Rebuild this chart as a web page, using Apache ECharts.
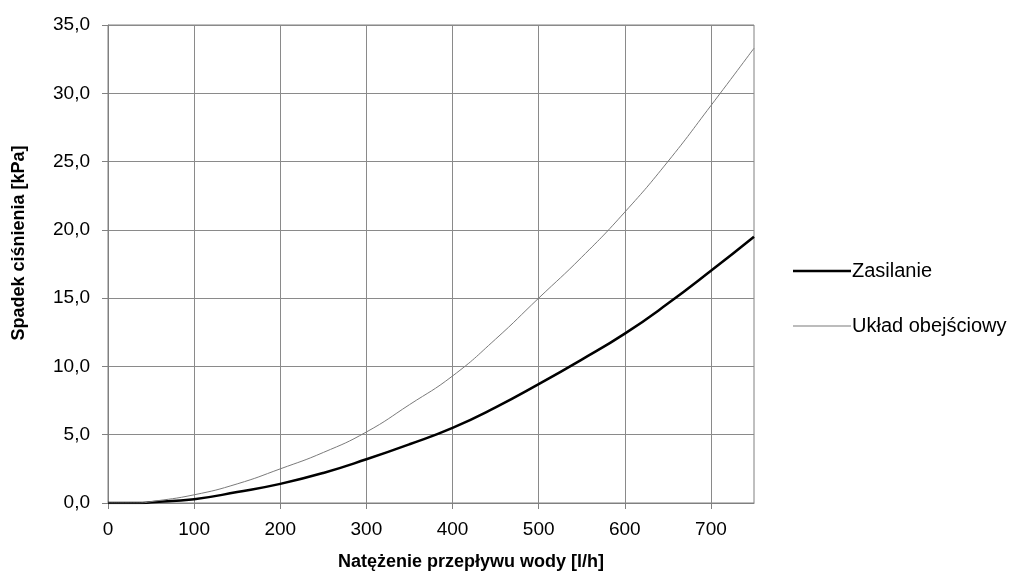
<!DOCTYPE html>
<html>
<head>
<meta charset="utf-8">
<script src="https://cdn.jsdelivr.net/npm/echarts@6/dist/echarts.min.js"></script>
<style>html,body{margin:0;padding:0;background:#fff}#c{width:1021px;height:576px}</style>
</head>
<body>
<div id="c"></div>
<script>
const flow = [0, 35, 50, 100, 150, 200, 250, 300, 350, 400, 450, 500, 550, 600, 650, 700, 750];
const zasilanie = [0, 0, 0.05, 0.28, 0.8, 1.4, 2.2, 3.2, 4.3, 5.5, 7.0, 8.7, 10.5, 12.4, 14.6, 17.0, 19.5];
const obejsciowy = [0, 0, 0.1, 0.6, 1.4, 2.5, 3.7, 5.2, 7.2, 9.3, 12.0, 15.0, 18.0, 21.3, 25.0, 29.1, 33.3];
const xTicks = [0, 100, 200, 300, 400, 500, 600, 700];
const seriesNames = ['Zasilanie', 'Układ obejściowy'];
const xTitle = 'Natężenie przepływu wody [l/h]';
const yTitle = 'Spadek ciśnienia [kPa]';

const FONT = 'Liberation Sans, Arial, sans-serif';
const chart = echarts.init(document.getElementById('c'));
chart.setOption({
  animation: false,
  backgroundColor: '#fff',
  grid: { left: 108, right: 267, top: 25, bottom: 73, show: true, borderColor: '#808080', borderWidth: 1 },
  legend: {
    orient: 'vertical', left: 793, top: 256, padding: 0, itemGap: 25,
    itemWidth: 58, itemHeight: 10,
    textStyle: { fontFamily: FONT, fontSize: 20, color: '#000', lineHeight: 20, padding: [0, 0, 10, -4] },
    data: [
      { name: seriesNames[0], icon: 'path://M0,0H58V2.5H0Z', itemStyle: { color: '#000' } },
      { name: seriesNames[1], icon: 'path://M0,0H58V1H0Z', itemStyle: { color: '#7a7a7a' } }
    ]
  },
  xAxis: {
    type: 'value', min: 0, max: 750, interval: 100,
    name: xTitle, nameLocation: 'middle', nameGap: 50,
    nameTextStyle: { fontFamily: FONT, fontSize: 18, fontWeight: 'bold', color: '#000', padding: [0, 0, 0, 80] },
    axisLine: { show: true, lineStyle: { color: '#808080', width: 1 } },
    axisTick: { show: true, inside: false, length: 6, lineStyle: { color: '#808080' }, customValues: xTicks },
    axisLabel: { fontFamily: FONT, fontSize: 19, color: '#000', margin: 17, customValues: xTicks },
    splitLine: { show: true, lineStyle: { color: '#8a8a8a', width: 1 } }
  },
  yAxis: {
    type: 'value', min: 0, max: 35, interval: 5,
    name: yTitle, nameLocation: 'middle', nameGap: 80, nameRotate: 90,
    nameTextStyle: { fontFamily: FONT, fontSize: 18, fontWeight: 'bold', color: '#000', padding: [0, 0, 0, 42] },
    axisLine: { show: true, lineStyle: { color: '#808080', width: 1 } },
    axisTick: { show: true, inside: false, length: 6, lineStyle: { color: '#808080' } },
    axisLabel: { fontFamily: FONT, fontSize: 19, color: '#000', margin: 18,
      formatter: v => v.toFixed(1).replace('.', ',') },
    splitLine: { show: true, lineStyle: { color: '#8a8a8a', width: 1 } }
  },
  series: [
    { name: seriesNames[0], type: 'line', symbol: 'none', smooth: 0.5,
      lineStyle: { color: '#000', width: 2.5 }, itemStyle: { color: '#000' },
      data: flow.map((x, i) => [x, zasilanie[i]]) },
    { name: seriesNames[1], type: 'line', symbol: 'none', smooth: 0.5,
      lineStyle: { color: '#7a7a7a', width: 1 }, itemStyle: { color: '#7a7a7a' },
      data: flow.map((x, i) => [x, obejsciowy[i]]) }
  ]
});
</script>
</body>
</html>
